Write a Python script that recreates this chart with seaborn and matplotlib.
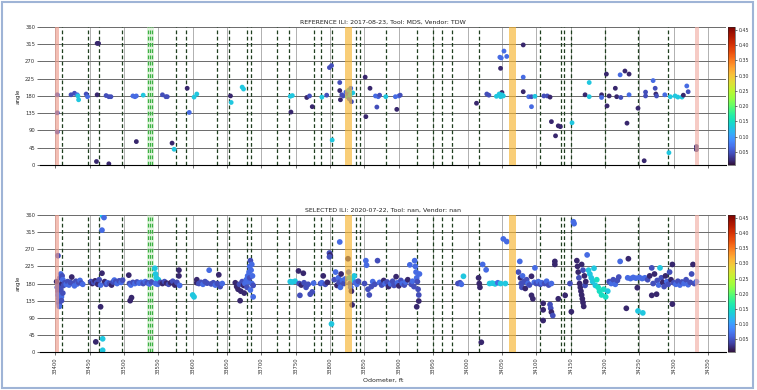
import matplotlib
matplotlib.use("Agg")
import numpy as np
import pandas as pd
import matplotlib.pyplot as plt
import seaborn as sns
from matplotlib.colors import Normalize
from matplotlib.patches import Rectangle

# reference run (2017) - odometer ft, angle deg, colour value
ref_odo = [33403, 33403, 33403, 33423, 33428, 33432, 33433, 33434, 33445, 33447,
           33461, 33463, 33461, 33460, 33478, 33474, 33478, 33481, 33513, 33516,
           33518, 33518, 33528, 33556, 33561, 33563, 33570, 33573, 33592, 33595,
           33602, 33606, 33655, 33656, 33672, 33674, 33742, 33745, 33743, 33766,
           33770, 33774, 33788, 33795, 33799, 33802, 33803, 33814, 33814, 33815,
           33817, 33819, 33823, 33825, 33826, 33827, 33828, 33829, 33830, 33831,
           33833, 33851, 33852, 33858, 33866, 33868, 33870, 33872, 33881, 33895,
           33897, 33900, 33902, 34013, 34028, 34031, 34042, 34047, 34049, 34048,
           34053, 34057, 34050, 34048, 34050, 34052, 34046, 34081, 34081, 34081,
           34089, 34093, 34093, 34098, 34111, 34116, 34120, 34122, 34128, 34132,
           34135, 34152, 34171, 34177, 34177, 34195, 34195, 34202, 34203, 34206,
           34215, 34217, 34223, 34222, 34229, 34232, 34235, 34235, 34248, 34257,
           34259, 34259, 34270, 34273, 34274, 34275, 34287, 34293, 34295, 34302,
           34306, 34312, 34314, 34319, 34321, 34333, 34333]
ref_angle = [183, 136, 86, 183, 187, 183, 180, 170, 185, 178,
             317, 317, 183, 9, 3, 181, 178, 178, 180, 178,
             180, 61, 182, 183, 178, 178, 57, 41, 200, 137,
             177, 185, 180, 163, 203, 198, 179, 181, 138, 176,
             180, 152, 177, 182, 254, 259, 65, 215, 194, 170,
             183, 180, 190, 178, 185, 195, 172, 182, 200, 165,
             188, 229, 126, 200, 180, 151, 178, 182, 178, 178,
             145, 180, 182, 161, 185, 182, 179, 281, 279, 252,
             297, 283, 189, 178, 183, 180, 185, 313, 229, 191,
             178, 178, 152, 179, 180, 180, 177, 113, 76, 102,
             100, 110, 183, 215, 178, 183, 176, 237, 154, 180,
             200, 178, 176, 235, 245, 109, 237, 183, 148, 11,
             190, 180, 220, 200, 185, 180, 183, 32, 178, 180,
             177, 177, 182, 206, 191, 48, 40]
ref_val = [.045, .045, .045, .045, .045, .065, .13, .13, .045, .065,
           .02, .02, .02, .02, .02, .045, .045, .045, .065, .065,
           .065, .02, .13, .045, .045, .045, .02, .13, .02, .065,
           .13, .13, .02, .13, .13, .13, .13, .13, .02, .02,
           .045, .02, .13, .045, .045, .045, .13, .045, .02, .02,
           .045, .045, .065, .13, .065, .13, .065, .13, .065, .045,
           .13, .02, .02, .02, .065, .045, .065, .045, .13, .065,
           .02, .065, .045, .02, .045, .045, .13, .065, .065, .02,
           .065, .065, .02, .13, .13, .13, .13, .02, .065, .02,
           .065, .045, .065, .13, .045, .045, .02, .02, .02, .02,
           .02, .13, .02, .13, .13, .02, .065, .02, .02, .02,
           .02, .02, .045, .065, .02, .02, .02, .065, .02, .02,
           .045, .045, .065, .045, .02, .045, .065, .13, .13, .13,
           .13, .13, .02, .065, .045, .02, .02]

# selected run (2020)
sel_odo = [33402, 33403, 33404, 33404, 33405, 33405, 33406, 33406, 33407, 33407,
           33408, 33408, 33409, 33409, 33410, 33410, 33411, 33411, 33404, 33412,
           33414, 33416, 33418, 33420, 33422, 33424, 33426, 33428, 33430, 33432,
           33434, 33436, 33438, 33440,
           33452, 33454, 33456, 33458, 33460, 33462, 33464, 33466, 33468, 33466,
           33459, 33469, 33468, 33469, 33471, 33469, 33472, 33474, 33476, 33479,
           33482, 33484, 33486, 33488, 33490, 33493, 33496, 33498,
           33507, 33509, 33511, 33508, 33510, 33513, 33516, 33519, 33522, 33525,
           33528, 33531, 33534, 33537, 33540, 33545, 33546, 33547, 33548, 33549,
           33550, 33546,
           33553, 33556, 33559, 33562, 33565, 33568, 33571, 33574, 33577, 33580,
           33580, 33581,
           33600, 33602, 33606, 33606, 33609, 33612, 33615, 33618, 33621, 33624,
           33627, 33630, 33633, 33636, 33638, 33640, 33643,
           33662, 33664, 33666, 33668, 33669, 33670, 33672, 33674, 33675, 33676,
           33678, 33679, 33680, 33681, 33682, 33683, 33683, 33684, 33685, 33686,
           33686, 33687, 33688, 33684, 33688,
           33742, 33745, 33749, 33754, 33756, 33755, 33758, 33761, 33762, 33765,
           33768, 33771, 33774, 33776, 33786, 33788, 33790, 33793, 33796, 33799,
           33800, 33799, 33802, 33814,
           33806, 33808, 33810, 33812, 33813, 33815, 33816, 33818, 33820, 33822,
           33826, 33827, 33828, 33829, 33830, 33831, 33832, 33833, 33835, 33837,
           33839, 33841,
           33850, 33852, 33853, 33855, 33857, 33860, 33862, 33865, 33869, 33872,
           33875, 33878, 33880, 33883, 33885, 33888, 33891, 33893, 33896, 33898,
           33900, 33903, 33905, 33908, 33910, 33913, 33916, 33918, 33920, 33922,
           33923, 33924, 33925, 33926, 33927, 33928, 33929, 33926, 33929, 33930,
           33986, 33989, 33991, 33994, 34016, 34017, 34018, 34020, 34022, 34027,
           34032, 34036, 34040, 34044, 34048, 34052, 34057, 34055,
           34074, 34076, 34077, 34078, 34079, 34080, 34082, 34084, 34086, 34088,
           34090, 34093, 34093, 34095, 34097, 34098, 34100, 34103, 34106, 34108,
           34110, 34110, 34110, 34112, 34115, 34118, 34120, 34121, 34122, 34124,
           34122, 34127, 34127, 34132, 34142, 34149, 34151, 34154, 34155,
           34159, 34160, 34161, 34162, 34163, 34164, 34165, 34166, 34167, 34168,
           34169, 34170, 34171, 34172, 34166, 34168, 34174, 34176, 34178, 34180,
           34182, 34184, 34186, 34188, 34190, 34192, 34195, 34198, 34201, 34204,
           34206, 34209, 34212, 34215, 34218, 34220, 34222,
           34231, 34234, 34233, 34237, 34241, 34245, 34247, 34248, 34250, 34255,
           34254, 34258, 34262, 34265, 34268, 34268, 34270, 34272, 34275, 34276,
           34278, 34280, 34282, 34284, 34286, 34288, 34290, 34292, 34294, 34296,
           34298, 34298, 34300, 34303, 34306, 34309, 34312, 34315, 34318, 34321,
           34324, 34326, 34328, 34330, 34333]
sel_angle = [185, 170, 160, 150, 140, 130, 125, 120, 175, 195,
             205, 165, 145, 135, 180, 200, 155, 190, 253, 175,
             182, 178, 185, 176, 183, 197, 180, 174, 186, 179,
             183, 188, 181, 178,
             185, 180, 183, 187, 182, 178, 190, 176, 207, 119,
             27, 35, 320, 358, 353, 5, 185, 178, 182, 180,
             176, 184, 189, 185, 180, 187, 183, 189,
             202, 135, 143, 180, 176, 183, 180, 184, 181, 183,
             180, 185, 182, 179, 184, 220, 205, 195, 185, 178,
             190, 180,
             183, 180, 185, 181, 178, 182, 186, 176, 183, 215,
             200, 175,
             150, 145, 190, 182, 180, 183, 178, 185, 181, 215,
             179, 182, 176, 180, 203, 172, 180,
             182, 172, 165, 178, 135, 160, 185, 175, 155, 180,
             190, 170, 200, 185, 210, 195, 225, 240, 215, 180,
             230, 200, 175, 163, 145,
             185, 184, 186, 213, 149, 180, 176, 207, 182, 170,
             178, 152, 158, 181, 180, 182, 200, 178, 183, 260,
             255, 250, 74, 289,
             190, 210, 175, 195, 183, 170, 205, 188, 180, 192,
             245, 210, 195, 180, 170, 160, 124, 190, 200, 183,
             178, 186,
             180, 240, 228, 165, 150, 172, 185, 178, 240, 183,
             176, 188, 180, 184, 172, 179, 186, 175, 198, 182,
             174, 188, 180, 176, 184, 190, 229, 178, 186, 172,
             240, 225, 210, 195, 185, 165, 150, 119, 134, 205,
             180, 182, 178, 199, 195, 180, 170, 26, 230, 216,
             180, 181, 179, 182, 180, 297, 290, 180,
             210, 238, 195, 180, 170, 200, 185, 167, 190, 180,
             176, 149, 199, 140, 183, 221, 180, 185, 178, 182,
             128, 111, 83, 180, 186, 176, 125, 115, 105, 96,
             180, 238, 230, 140, 149, 180, 106, 342, 337,
             240, 225, 210, 195, 180, 170, 160, 150, 140, 130,
             120, 200, 175, 185, 230, 215, 255, 215, 205, 195,
             185, 220, 175, 190, 170, 160, 150, 165, 145, 160,
             185, 180, 190, 178, 188, 197, 238,
             115, 245, 195, 193, 196, 194, 169, 108, 196, 103,
             193, 195, 190, 200, 221, 149, 180, 205, 152, 188,
             176, 221, 195, 183, 172, 200, 185, 178, 210, 190,
             126, 230, 182, 178, 186, 176, 184, 180, 190, 177,
             183, 205, 230, 180, 185]
sel_val = [.02, .045, .045, .065, .065, .065, .045, .065, .045, .045,
           .065, .045, .065, .045, .02, .045, .045, .065, .045, .045,
           .045, .065, .045, .065, .045, .02, .045, .065, .045, .065,
           .045, .065, .045, .065,
           .045, .02, .045, .02, .045, .02, .045, .065, .02, .02,
           .02, .13, .065, .13, .065, .13, .02, .045, .065, .045,
           .02, .045, .065, .045, .065, .045, .065, .045,
           .02, .02, .02, .045, .065, .045, .065, .045, .065, .065,
           .045, .065, .045, .065, .045, .13, .13, .13, .13, .065,
           .13, .065,
           .045, .02, .045, .02, .045, .02, .045, .02, .045, .02,
           .02, .065,
           .13, .13, .02, .02, .045, .045, .065, .045, .045, .065,
           .045, .045, .065, .045, .02, .045, .065,
           .02, .02, .02, .045, .02, .02, .045, .02, .02, .065,
           .065, .045, .065, .065, .065, .045, .065, .045, .065, .065,
           .065, .065, .045, .065, .065,
           .13, .13, .13, .02, .045, .045, .02, .02, .045, .045,
           .045, .045, .045, .065, .045, .065, .02, .045, .02, .045,
           .02, .045, .13, .065,
           .045, .065, .02, .065, .045, .065, .02, .065, .045, .065,
           .02, .065, .13, .045, .065, .02, .02, .13, .13, .065,
           .065, .045,
           .045, .065, .065, .045, .045, .045, .065, .045, .045, .065,
           .045, .02, .065, .045, .02, .065, .045, .045, .02, .065,
           .02, .045, .065, .045, .065, .02, .065, .045, .065, .045,
           .065, .065, .065, .065, .045, .045, .045, .02, .02, .065,
           .045, .045, .065, .13, .02, .02, .02, .02, .065, .065,
           .13, .13, .13, .065, .13, .065, .065, .13,
           .045, .065, .02, .045, .045, .065, .045, .02, .045, .065,
           .045, .02, .02, .02, .065, .065, .045, .065, .045, .065,
           .02, .02, .02, .045, .065, .045, .045, .045, .02, .045,
           .065, .02, .02, .02, .02, .045, .02, .065, .065,
           .02, .02, .02, .045, .02, .02, .02, .02, .02, .02,
           .02, .02, .045, .02, .02, .045, .065, .13, .13, .13,
           .13, .13, .13, .15, .15, .15, .15, .15, .15, .13,
           .045, .065, .045, .065, .045, .045, .065,
           .02, .02, .065, .065, .065, .065, .02, .13, .065, .13,
           .065, .065, .045, .02, .045, .02, .045, .02, .02, .045,
           .065, .13, .045, .02, .045, .02, .065, .045, .045, .02,
           .02, .02, .045, .065, .045, .065, .045, .065, .045, .065,
           .045, .045, .02, .045, .065]

# girth welds / features (dashed lines) and highlighted zones
weld_odo = [33410, 33448, 33464, 33497, 33576, 33591, 33636, 33653, 33679, 33685,
            33722, 33740, 33777, 33787, 33803, 33838, 33844, 33882, 33927, 33950,
            33963, 33978, 34017, 34106, 34136, 34140, 34151, 34200, 34248, 34292]
green_odo = [33535, 33538, 33541]
zone_start = [33400, 33822, 34060, 34331]
zone_end = [33406, 33832, 34071, 34337]
zone_color = ['#ee9c8c', '#f6b530', '#f6b530', '#f2b0a6']

titles = ['REFERENCE ILI: 2017-08-23, Tool: MDS, Vendor: TDW',
          'SELECTED ILI: 2020-07-22, Tool: nan, Vendor: nan']

vmin, vmax = 0.007, 0.46

sns.set_theme(style='white')
plt.rcParams['font.family'] = ['DejaVu Sans']

fig = plt.figure(figsize=(7.57, 3.9), dpi=100)
ax1 = fig.add_axes([0.053, 0.577, 0.906, 0.354])
ax2 = fig.add_axes([0.053, 0.097, 0.906, 0.352])
cax1 = fig.add_axes([0.962, 0.577, 0.0095, 0.354])
cax2 = fig.add_axes([0.962, 0.097, 0.0095, 0.352])

ref = pd.DataFrame({'odo': ref_odo, 'angle': ref_angle, 'val': ref_val})
sel = pd.DataFrame({'odo': sel_odo, 'angle': sel_angle, 'val': sel_val})

for ax, df, cax, title, size in [(ax1, ref, cax1, titles[0], 12), (ax2, sel, cax2, titles[1], 17)]:
    sns.scatterplot(data=df, x='odo', y='angle', hue='val', palette='turbo',
                    hue_norm=(vmin, vmax), s=size, linewidth=0, legend=False,
                    ax=ax, zorder=2)
    for a, b, c in zip(zone_start, zone_end, zone_color):
        ax.axvspan(a, b, color=c, alpha=0.65, lw=0, zorder=3)
    ax.axvspan(33533, 33543, color='#b8e6b0', alpha=0.4, lw=0, zorder=1)
    for x in weld_odo:
        ax.axvline(x, color='#1f3f1f', ls=(0, (3, 2)), lw=0.9, zorder=1.5)
    for x in green_odo:
        ax.axvline(x, color='#3cb043', ls=(0, (3, 2)), lw=0.9, zorder=1.5)

    ax.set_xlim(33378, 34376)
    ax.set_ylim(0, 360)
    ax.set_yticks(np.arange(0, 361, 45))
    ax.set_xticks(np.arange(33400, 34351, 50))
    ax.grid(axis='y', color='#6a6a6a', lw=0.7, zorder=0)
    ax.grid(axis='x', color='#b0b0b0', lw=0.7, zorder=0)
    ax.set_axisbelow(True)
    for side in ['top', 'right', 'left']:
        ax.spines[side].set_visible(False)
    ax.spines['bottom'].set_color('black')
    ax.spines['bottom'].set_linewidth(0.8)
    ax.tick_params(axis='both', labelsize=3.8, length=2, width=0.5, pad=1.5,
                   bottom=True, left=True, colors='#333333')
    ax.set_ylabel('angle', fontsize=4, labelpad=3)
    ax.set_title(title, fontsize=4.5, pad=2.5, color='#222222')

    sm = plt.cm.ScalarMappable(norm=Normalize(vmin, vmax), cmap='turbo')
    cb = fig.colorbar(sm, cax=cax, ticks=np.arange(0.05, 0.451, 0.05))
    cb.ax.tick_params(labelsize=3.4, length=1.5, width=0.5, pad=1.2, colors='#333333')
    cb.ax.set_yticklabels([f'{t:.2f}' for t in np.arange(0.05, 0.451, 0.05)])
    cb.outline.set_linewidth(0.4)

ax1.set_xlabel('')
ax1.set_xticklabels([])
ax2.set_xticklabels([str(t) for t in np.arange(33400, 34351, 50)], rotation=90)
ax2.set_xlabel('Odometer, ft', fontsize=4.5, labelpad=3)

fig.patches.append(Rectangle((0.003, 0.004), 0.992, 0.99, transform=fig.transFigure,
                             fill=False, edgecolor='#9fb4d6', lw=1.5))

fig.savefig('out.png', dpi=100)
